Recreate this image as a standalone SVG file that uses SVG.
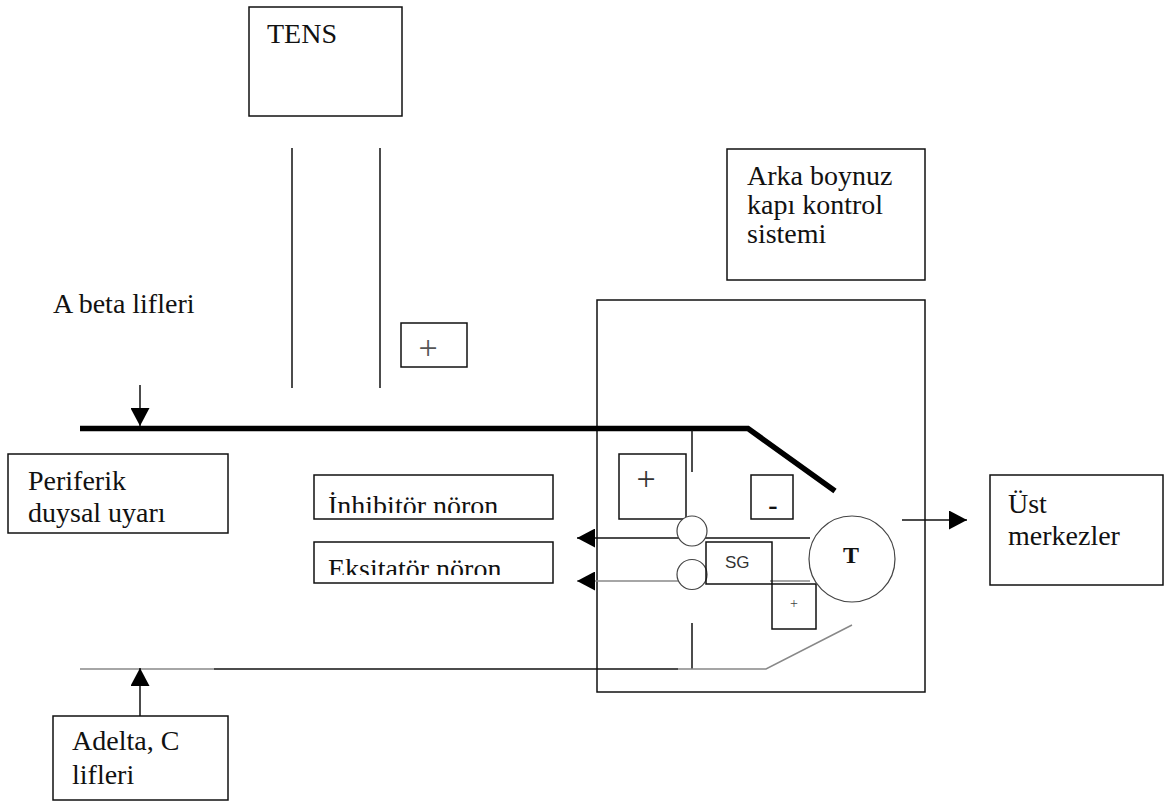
<svg xmlns="http://www.w3.org/2000/svg" width="1164" height="803" viewBox="0 0 1164 803">
<style>
.box{fill:#fff;stroke:#111;stroke-width:1.5}
.t{font-family:"Liberation Serif","Times New Roman",serif;font-size:28px;fill:#111}
.ln{stroke:#111;stroke-width:1.5;fill:none}
.gl{stroke:#888;stroke-width:1.5;fill:none}
.circ{fill:#fff;stroke:#444;stroke-width:1.2}
</style>
<defs>
<marker id="ah" markerUnits="userSpaceOnUse" markerWidth="19" markerHeight="19" refX="18" refY="9.5" orient="auto">
<path d="M0,0 L18,9.5 L0,19 z" fill="#000"/>
</marker>
<clipPath id="c1"><rect x="314" y="475" width="240" height="38"/></clipPath>
<clipPath id="c2"><rect x="314" y="542" width="240" height="33"/></clipPath>
</defs>
<rect width="1164" height="803" fill="#fff"/>

<g id="tens">
<rect class="box" x="249" y="7" width="153" height="109"/>
<text class="t" x="267" y="43">TENS</text>
</g>

<g id="arka">
<rect class="box" x="727" y="149" width="198" height="131"/>
<text class="t" x="747" y="185">Arka boynuz</text>
<text class="t" x="747" y="214">kapı kontrol</text>
<text class="t" x="747" y="243">sistemi</text>
</g>

<g id="abeta">
<text class="t" x="53" y="313">A beta lifleri</text>
</g>

<g id="plus-top">
<rect class="box" x="401" y="323" width="66" height="44"/>
<text class="t" x="428" y="359" text-anchor="middle" style="font-size:34px;fill:#555">+</text>
</g>

<g id="gate">
<rect class="box" x="597" y="300" width="328" height="392" style="fill:none"/>
</g>

<g id="periferik">
<rect class="box" x="8" y="454" width="220" height="79"/>
<text class="t" x="28" y="490">Periferik</text>
<text class="t" x="28" y="522">duysal uyarı</text>
</g>

<g id="adelta">
<rect class="box" x="53" y="716" width="175" height="84"/>
<text class="t" x="72" y="750">Adelta, C</text>
<text class="t" x="72" y="784">lifleri</text>
</g>

<g id="ust">
<rect class="box" x="990" y="475" width="173" height="110"/>
<text class="t" x="1008" y="513">Üst</text>
<text class="t" x="1008" y="545">merkezler</text>
</g>

<g id="connectors">
<line class="ln" x1="292" y1="148" x2="292" y2="388"/>
<line class="ln" x1="380" y1="148" x2="380" y2="388"/>
<polyline points="80,428.5 748,428.5 835,491" fill="none" stroke="#000" stroke-width="5.5"/>
<line class="ln" x1="140" y1="385" x2="140" y2="426" marker-end="url(#ah)"/>
<line class="ln" x1="692" y1="430" x2="692" y2="472"/>
<line class="ln" x1="692" y1="623" x2="692" y2="669"/>
<line class="gl" x1="80" y1="669" x2="214" y2="669"/>
<line class="ln" x1="214" y1="669" x2="678" y2="669"/>
<polyline class="gl" points="678,669 766,669 852,625"/>
<line class="ln" x1="140" y1="716" x2="140" y2="668" marker-end="url(#ah)"/>
<line class="ln" x1="692" y1="538" x2="577" y2="538" marker-end="url(#ah)"/>
<line class="gl" x1="692" y1="581" x2="577" y2="581" marker-end="url(#ah)"/>
<line class="ln" x1="700" y1="538" x2="810" y2="538"/>
<line class="gl" x1="770" y1="581" x2="810" y2="581"/>
<line class="ln" x1="902" y1="520" x2="967" y2="520" marker-end="url(#ah)"/>
</g>

<g id="inhibitor">
<rect class="box" x="314" y="475" width="239" height="44"/>
<text class="t" x="328" y="515" clip-path="url(#c1)">İnhibitör nöron</text>
</g>

<g id="eksitator">
<rect class="box" x="314" y="542" width="239" height="41"/>
<text class="t" x="328" y="578" clip-path="url(#c2)">Eksitatör nöron</text>
</g>

<g id="plus-gate">
<rect class="box" x="619" y="454" width="67" height="65"/>
<text class="t" x="646" y="490" text-anchor="middle" style="font-size:34px;fill:#333">+</text>
</g>

<g id="minus">
<rect class="box" x="751" y="475" width="42" height="44"/>
<text class="t" x="773" y="514" text-anchor="middle" style="font-size:28px;font-weight:bold">-</text>
</g>

<g id="inh-circle">
<circle class="circ" cx="692" cy="531" r="15"/>
</g>
<g id="exc-circle">
<circle class="circ" cx="692" cy="574.5" r="15"/>
</g>

<g id="sg">
<rect class="box" x="706" y="542" width="66" height="42" style="fill:none"/>
<text x="725" y="568" style="font-family:'Liberation Sans',Arial,sans-serif;font-size:17px;fill:#333">SG</text>
</g>

<g id="plus-small">
<rect class="box" x="772" y="584" width="44" height="45"/>
<text class="t" x="794" y="608" text-anchor="middle" style="font-size:14px;fill:#444">+</text>
</g>

<g id="t-cell">
<circle class="circ" cx="852" cy="559" r="43"/>
<text class="t" x="851" y="563" text-anchor="middle" style="font-size:24px;font-weight:bold">T</text>
</g>
</svg>
